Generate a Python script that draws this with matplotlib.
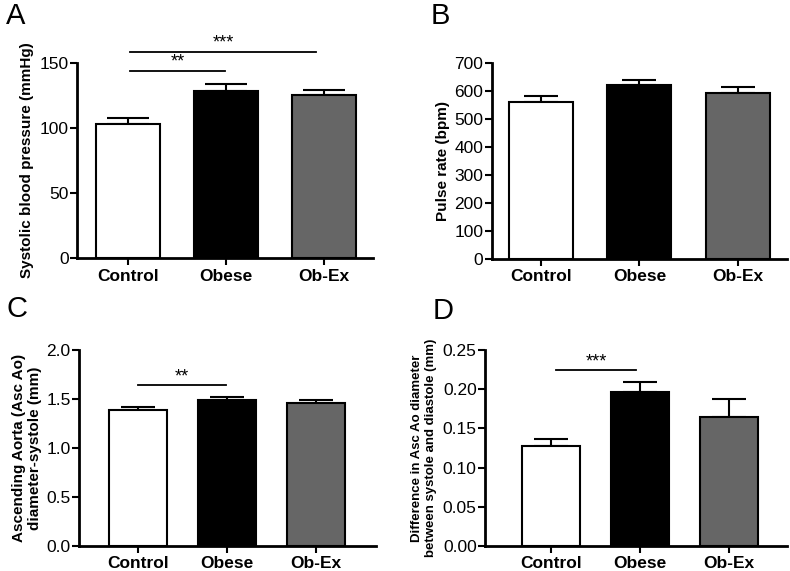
import matplotlib
matplotlib.use("Agg")
import matplotlib.pyplot as plt

plt.rcParams['font.family'] = ['Liberation Sans', 'DejaVu Sans']

categories = ["Control", "Obese", "Ob-Ex"]
colors = ["#ffffff", "#000000", "#666666"]

sbp_mean = [103, 128, 125]
sbp_err = [4.5, 6, 4]
pulse_mean = [561, 621, 591]
pulse_err = [21, 17, 24]
asc_mean = [1.39, 1.495, 1.46]
asc_err = [0.03, 0.025, 0.03]
diff_mean = [0.128, 0.197, 0.164]
diff_err = [0.008, 0.012, 0.023]

fig = plt.figure(figsize=(7.9, 5.71), dpi=100)

def panel(rect, means, errs, ylim, yticks, ylabel, xlim, capsize, labelsize=11, labelpad=2):
    ax = fig.add_axes(rect)
    x = list(range(len(categories)))
    ax.bar(x, means, width=0.65, color=colors, edgecolor="black", linewidth=1.5, zorder=2)
    ax.errorbar(x, means, yerr=[[0]*len(errs), errs], fmt="none", ecolor="black",
                elinewidth=1.5, capsize=capsize, capthick=1.5, zorder=1)
    ax.set_xlim(*xlim)
    ax.set_ylim(*ylim)
    ax.set_yticks(yticks)
    ax.set_xticks(x)
    ax.set_xticklabels(categories, fontweight="bold", fontsize=11.5)
    ax.set_ylabel(ylabel, fontweight="bold", fontsize=labelsize, labelpad=labelpad)
    for s in ["top", "right"]:
        ax.spines[s].set_visible(False)
    for s in ["left", "bottom"]:
        ax.spines[s].set_linewidth(2)
    ax.tick_params(axis="both", width=1.5, length=5, labelsize=12.5)
    ax.tick_params(axis="x", pad=2.5)
    ax.tick_params(axis="y", pad=1)
    return ax

def sig(ax, x0, x1, y, text):
    ax.plot([x0, x1], [y, y], color="black", lw=1.3, clip_on=False)
    ax.text((x0 + x1) / 2, y, text, ha="center", va="bottom", fontsize=13)

axA = panel([0.0975, 0.548, 0.375, 0.342], sbp_mean, sbp_err, (0, 150), [0, 50, 100, 150],
            "Systolic blood pressure (mmHg)", (-0.52, 2.5), 15, labelpad=4)
sig(axA, 0.02, 0.99, 144, "**")
sig(axA, 0.02, 1.92, 158.5, "***")

axB = panel([0.6224, 0.5464, 0.374, 0.3436], pulse_mean, pulse_err, (0, 700),
            list(range(0, 701, 100)), "Pulse rate (bpm)", (-0.5, 2.5), 12, labelpad=3)

axC = panel([0.1, 0.0438, 0.376, 0.3432], asc_mean, asc_err, (0, 2.0),
            [0.0, 0.5, 1.0, 1.5, 2.0], "Ascending Aorta (Asc Ao)\ndiameter-systole (mm)",
            (-0.66, 2.67), 12, labelpad=3)
axC.yaxis.set_major_formatter(matplotlib.ticker.FormatStrFormatter("%.1f"))
sig(axC, 0.0, 0.99, 1.64, "**")

axD = panel([0.614, 0.0438, 0.382, 0.3432], diff_mean, diff_err, (0, 0.25),
            [0.0, 0.05, 0.10, 0.15, 0.20, 0.25],
            "Difference in Asc Ao diameter\nbetween systole and diastole (mm)",
            (-0.74, 2.65), 12, labelsize=9.5, labelpad=4)
axD.yaxis.set_major_formatter(matplotlib.ticker.FormatStrFormatter("%.2f"))
sig(axD, 0.06, 0.96, 0.224, "***")

for lbl, (x, y) in zip("ABCD", [(0.008, 0.972), (0.545, 0.972), (0.008, 0.459), (0.548, 0.456)]):
    fig.text(x, y, lbl, fontsize=21, ha="left", va="center")

fig.savefig("out.png", dpi=100)
